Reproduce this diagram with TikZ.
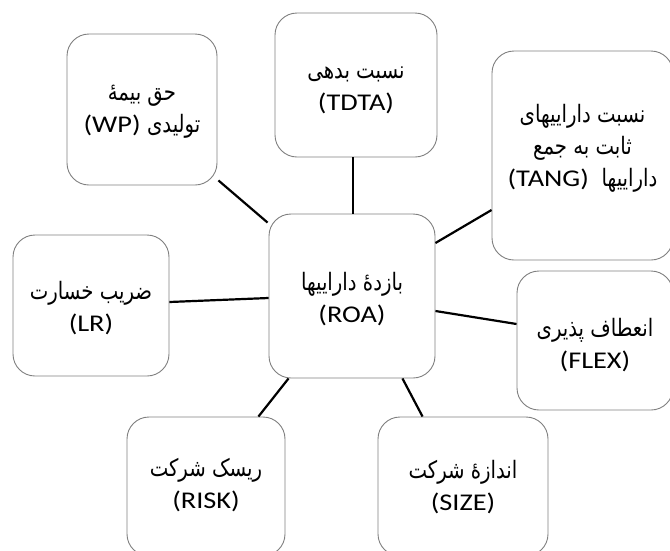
\documentclass[tikz,border=0pt]{standalone}
\usepackage{fontspec}
\setmainfont{Carlito}[FakeStretch=1.18]
\newfontfamily\arabicfont[Script=Arabic,FakeStretch=0.82]{DejaVu Sans}
\TeXXeTstate=1
\usetikzlibrary{calc}
\newcommand{\fa}[1]{{\arabicfont\fontsize{24}{32}\selectfont\beginR #1\endR}}
\definecolor{boxgray}{RGB}{128,128,128}
\tikzset{
  box/.style={draw=boxgray, line width=0.9pt, rounded corners=22pt, fill=white, inner sep=0pt},
  txt/.style={align=center, font=\fontsize{24}{32}\selectfont, inner sep=0pt},
  link/.style={line width=2.2pt, black}
}
\begin{document}
\begin{tikzpicture}[x=1pt,y=-1pt]
\fill[white] (0,0) rectangle (670,550);
\useasboundingbox (0,0) rectangle (670,550);
\clip (0,0) rectangle (670,550);
\node[box, minimum width=150pt, minimum height=151pt] (WP) at (142,109.5) {};
\node[box, minimum width=162pt, minimum height=144pt] (TDTA) at (356,85) {};
\node[box, minimum width=181pt, minimum height=209pt] (TANG) at (582.5,155.5) {};
\node[box, minimum width=156pt, minimum height=139pt] (FLEX) at (595,340.5) {};
\node[box, minimum width=156pt, minimum height=141pt] (LR) at (91,305.5) {};
\node[box, minimum width=166pt, minimum height=164pt] (ROA) at (352,296) {};
\node[box, minimum width=158pt, minimum height=139pt] (RISK) at (206,486.5) {};
\node[box, minimum width=170pt, minimum height=139pt] (SIZE) at (463,486.5) {};
\node[txt] (WPt) at ($(WP)+(0,2)$)
  {\fa{حق بیمهٔ}\\ \beginR\fa{تولیدی} \beginL(WP)\endL\endR};
\node[txt] (TDTAt) at ($(TDTA)+(0,5)$) {\fa{نسبت بدهی}\\ (TDTA)};
\node[txt] (TANGt) at ($(TANG)+(0,-7)$)
  {\fa{نسبت داراییهای}\\ \fa{ثابت به جمع}\\ \beginR\fa{داراییها}\ \ \beginL(TANG)\endL\endR};
\node[txt] (FLEXt) at ($(FLEX)+(0,5)$) {\fa{انعطاف پذیری}\\ (FLEX)};
\node[txt] (LRt) at ($(LR)+(0,3)$) {\fa{ضریب خسارت}\\ (LR)};
\node[txt] (ROAt) at ($(ROA)+(0,3)$) {\fa{بازدهٔ داراییها}\\ (ROA)};
\node[txt] (RISKt) at ($(RISK)+(0,-1)$) {\fa{ریسک شرکت}\\ (RISK)};
\node[txt] (SIZEt) at ($(SIZE)+(0,1)$) {\fa{اندازهٔ شرکت}\\ (SIZE)};
\draw[link] ($(WP.south east)+(1,-5)$) -- ($(ROA.north west)+(-1,9)$);
\draw[link] ($(TDTA.south)+(-3,0)$) -- ($(ROA.north)+(1,0)$);
\draw[link] ($(TANG.west)+(0,54.5)$) -- ($(ROA.east)+(0,-53)$);
\draw[link] ($(LR.east)+(0,-3.5)$) -- ($(ROA.west)+(0,2)$);
\draw[link] ($(FLEX.west)+(0,-16.5)$) -- ($(ROA.east)+(0,15)$);
\draw[link] ($(RISK.north east)+(-27,0)$) -- ($(ROA.south west)+(20,0)$);
\draw[link] ($(SIZE.north west)+(45,0)$) -- ($(ROA.south east)+(-33,0)$);
\end{tikzpicture}
\end{document}
